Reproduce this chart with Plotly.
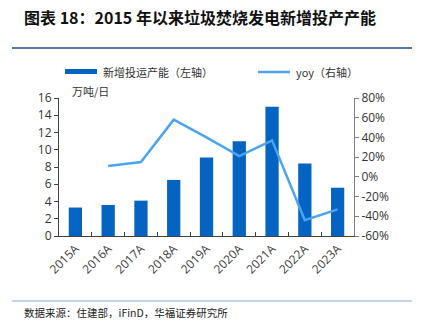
import plotly.graph_objects as go

categories = ["2015A", "2016A", "2017A", "2018A", "2019A", "2020A", "2021A", "2022A", "2023A"]
capacity = [3.3, 3.6, 4.1, 6.5, 9.1, 11.0, 15.0, 8.4, 5.6]
yoy = [None, 11, 15, 58, 40, 21, 37, -44, -33]
left_ticks = list(range(0, 17, 2))
right_ticks = list(range(-60, 81, 20))

BAR = "#0563C1"
LINE = "#4BA3F2"
CJK = "Noto Sans CJK SC"

W, H = 423, 321
L, R, T, B = 59, 354, 98, 236


def px(x):
    return (x - L) / (R - L)


def py(y):
    return (B - y) / (B - T)


fig = go.Figure()
fig.add_trace(go.Bar(x=categories, y=capacity, marker_color=BAR, marker_line_width=0,
                     name="新增投运产能（左轴）", showlegend=False))
fig.add_trace(go.Scatter(x=categories, y=yoy, mode="lines", yaxis="y2",
                         line=dict(color=LINE, width=2.5), name="yoy（右轴）", showlegend=False))

fig.update_layout(
    width=W, height=H,
    margin=dict(l=L, r=W - R, t=T, b=H - B, pad=0),
    paper_bgcolor="white", plot_bgcolor="white",
    bargap=0.595,
    font=dict(family=CJK, size=11, color="#333333"),
    xaxis=dict(showline=True, linecolor="#404040", linewidth=1, ticks="inside",
               tickson="boundaries", ticklen=4, tickcolor="#404040", tickangle=-45,
               tickfont=dict(family="Open Sans", size=12, color="#404040"), showgrid=False),
    yaxis=dict(range=[0, 16], tickvals=left_ticks, showline=True, linecolor="#404040",
               linewidth=1, ticks="outside", ticklen=4, tickcolor="#404040",
               showgrid=False, zeroline=False,
               tickfont=dict(family="Open Sans", size=12, color="#333333")),
    yaxis2=dict(range=[-60, 80], tickvals=right_ticks,
                ticktext=[f"{v}%" for v in right_ticks], overlaying="y", side="right",
                showline=True, linecolor="#7f7f7f", linewidth=1, ticks="outside",
                ticklen=4, tickcolor="#7f7f7f", showgrid=False, zeroline=False,
                tickfont=dict(family="Open Sans", size=12, color="#333333")),
)

shapes = []
annotations = []

# title
annotations.append(dict(x=px(22), y=py(17), xref="paper", yref="paper", xanchor="left",
                        yanchor="middle", showarrow=False,
                        text="<b>图表 18：2015 年以来垃圾焚烧发电新增投产产能</b>",
                        font=dict(family=CJK, size=16, color="#111111")))
shapes.append(dict(type="line", xref="paper", yref="paper", x0=px(12), x1=px(412),
                   y0=py(48), y1=py(48), line=dict(color="#1F4E9A", width=1.5)))

# legend
shapes.append(dict(type="rect", xref="paper", yref="paper", x0=px(65), x1=px(97),
                   y0=py(69), y1=py(74), fillcolor=BAR, line=dict(width=0)))
annotations.append(dict(x=px(101), y=py(71.5), xref="paper", yref="paper", xanchor="left",
                        yanchor="middle", showarrow=False, text="新增投运产能（左轴）",
                        font=dict(family=CJK, size=11, color="#333333")))
shapes.append(dict(type="line", xref="paper", yref="paper", x0=px(258), x1=px(290),
                   y0=py(72), y1=py(72), line=dict(color=LINE, width=2.5)))
annotations.append(dict(x=px(294), y=py(71.5), xref="paper", yref="paper", xanchor="left",
                        yanchor="middle", showarrow=False, text="yoy（右轴）",
                        font=dict(family=CJK, size=11, color="#333333")))

# unit
annotations.append(dict(x=px(70), y=py(91), xref="paper", yref="paper", xanchor="left",
                        yanchor="middle", showarrow=False, text="万吨/日",
                        font=dict(family=CJK, size=11, color="#333333")))

# source
shapes.append(dict(type="line", xref="paper", yref="paper", x0=px(12), x1=px(412),
                   y0=py(301), y1=py(301), line=dict(color="#8FAADC", width=1.2)))
annotations.append(dict(x=px(22), y=py(312), xref="paper", yref="paper", xanchor="left",
                        yanchor="middle", showarrow=False,
                        text="数据来源：住建部，iFinD，华福证券研究所",
                        font=dict(family=CJK, size=10.5, color="#222222")))

fig.update_layout(shapes=shapes, annotations=annotations)
fig.write_html("out.html")
